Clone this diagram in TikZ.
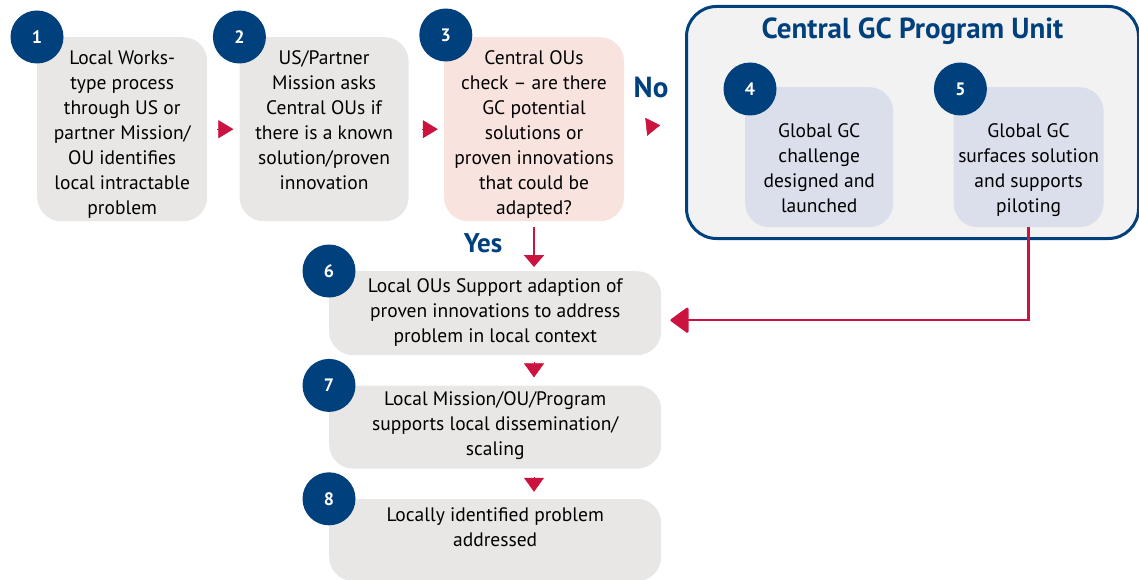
\documentclass[tikz,border=0pt]{standalone}
\usepackage{fontspec}
\setmainfont{PT Sans}
\usepackage{xcolor}
\usetikzlibrary{positioning,arrows.meta,calc}
\definecolor{gcnavy}{RGB}{0,64,124}
\definecolor{gcred}{RGB}{204,18,62}
\definecolor{gcgray}{RGB}{232,231,230}
\definecolor{gcpink}{RGB}{249,227,222}
\definecolor{gclav}{RGB}{219,223,235}
\definecolor{gcpale}{RGB}{242,242,243}
\tikzset{%
stepbox/.style={rectangle,rounded corners=24pt,fill=#1,inner sep=0,anchor=north west},
steptext/.style={align=center,inner sep=0,anchor=north,font=\fontsize{19.5}{25}\selectfont},
numdot/.style={circle,fill=gcnavy,text=white,minimum size=53pt,inner sep=0,font=\bfseries\fontsize{18}{18}\selectfont},
unitframe/.style={draw=gcnavy,line width=3pt,fill=gcpale,rounded corners=30pt,inner sep=0,anchor=north west},
answer/.style={text=gcnavy,font=\bfseries\fontsize{29}{29}\selectfont,inner sep=0},
marker/.style={gcred,line width=0.5pt,-{Triangle[length=#1,width=18pt]}},
flowarrow/.style={gcred,line width=2pt}
}

\begin{document}
\begin{tikzpicture}[x=1pt,y=-1pt]

    \useasboundingbox (0,0) rectangle (1139,580);

    % top row
    \node[stepbox=gcgray,minimum width=170pt,minimum height=184pt] (s1) at (37,37) {};
    \node[stepbox=gcgray,minimum width=169pt,minimum height=184pt] (s2) [right=32pt of s1] {};
    \node[stepbox=gcpink,minimum width=180pt,minimum height=184pt] (s3) [right=35pt of s2] {};

    \node[unitframe,minimum width=452pt,minimum height=232pt] (unit) at (685,5) {};
    \node[answer,anchor=north] (unittitle) [below=13pt of unit.north] {Central GC Program Unit};
    \node[stepbox=gclav,minimum width=148pt,minimum height=140pt] (s4) at (745,87) {};
    \node[stepbox=gclav,minimum width=150pt,minimum height=140pt] (s5) [right=60pt of s4] {};

    % bottom column
    \node[stepbox=gcgray,minimum width=332pt,minimum height=84pt] (s6) at (329,271) {};
    \node[stepbox=gcgray,minimum width=332pt,minimum height=83pt] (s7) [below=30pt of s6] {};
    \node[stepbox=gcgray,minimum width=332pt,minimum height=82pt] (s8) [below=30pt of s7] {};

    \node[steptext] (t1) [below=9.5pt of s1.north] {\strut Local Works-\\type process\\through US or\\partner Mission/\\OU identifies\\local intractable\\problem};
    \node[steptext] (t2) [below=9.5pt of s2.north] {\strut US/Partner\\Mission asks\\Central OUs if\\there is a known\\solution/proven\\innovation};
    \node[steptext] (t3) [below=9.5pt of s3.north] {\strut Central OUs\\check -- are there\\GC potential\\solutions or\\proven innovations\\that could be\\adapted?};
    \node[steptext] (t4) [below=32.5pt of s4.north] {\strut Global GC\\challenge\\designed and\\launched};
    \node[steptext] (t5) [below=32.5pt of s5.north] {\strut Global GC\\surfaces solution\\and supports\\piloting};
    \node[steptext] (t6) [below=3.5pt of s6.north] {\strut Local OUs Support adaption of\\proven innovations to address\\problem in local context};
    \node[steptext] (t7) [below=2.5pt of s7.north] {\strut Local Mission/OU/Program\\supports local dissemination/\\scaling};
    \node[steptext] (t8) [below=4.5pt of s8.north] {\strut Locally identified problem\\addressed};

    \node[numdot] (n1) at (s1.north west) {1};
    \node[numdot] (n2) at (s2.north west) {2};
    \node[numdot] (n3) at ([xshift=2pt,yshift=2pt]s3.north west) {3};
    \node[numdot] (n4) at ([xshift=5pt,yshift=-2pt]s4.north west) {4};
    \node[numdot] (n5) at ([xshift=7pt,yshift=-2pt]s5.north west) {5};
    \node[numdot] (n6) at (s6.north west) {6};
    \node[numdot] (n7) at (s7.north west) {7};
    \node[numdot] (n8) at (s8.north west) {8};

    \node[answer] (no) at (651,87) {No};
    \node[answer,font=\bfseries\fontsize{27}{27}\selectfont] (yes) at (483,243) {Yes};

    % connectors
    \draw[marker=15pt,shorten >=6pt,shorten <=10pt] (s1.east) -- (s2.west);
    \draw[marker=15pt,shorten >=6pt,shorten <=13pt] (s2.east) -- (s3.west);
    \draw[marker=14pt,shorten >=25pt,shorten <=22pt] (s3.east) -- (unit.west);

    \draw[flowarrow,-{Triangle[length=12pt,width=20pt]},shorten <=6pt,shorten >=4pt] (s3.south) -- (s6.north -| s3.south);
    \draw[marker=14pt,-{Triangle[length=14pt,width=20pt]},shorten >=8pt,shorten <=7pt] (s6.south -| s3.south) -- (s7.north -| s3.south);
    \draw[marker=14pt,-{Triangle[length=14pt,width=20pt]},shorten >=7pt,shorten <=8pt] (s7.south -| s3.south) -- (s8.north -| s3.south);

    \draw[flowarrow,line width=2.5pt,-{Triangle[round,length=19pt,width=27pt]},shorten >=9pt] (s5.south) |- ([yshift=-7pt]s6.east);

\end{tikzpicture}
\end{document}
